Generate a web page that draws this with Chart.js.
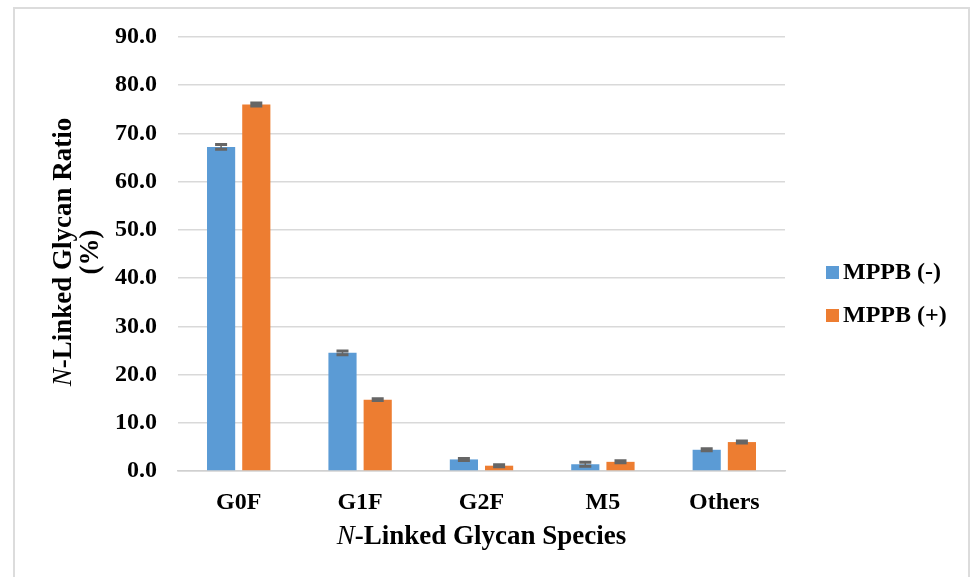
<!DOCTYPE html>
<html>
<head>
<meta charset="utf-8">
<script src="https://cdn.jsdelivr.net/npm/chart.js@4.4.1/dist/chart.umd.min.js"></script>
<style>
  html, body { margin: 0; padding: 0; background: #ffffff; overflow: hidden; }
  #frame { position: absolute; left: 13px; top: 7px; width: 957px; height: 620px; border: 2px solid #dcdcdc; box-sizing: border-box; }
  #wrap { position: absolute; left: 0; top: 0; width: 974px; height: 577px; }
</style>
</head>
<body>
<div id="frame"></div>
<div id="wrap"><canvas id="c" width="974" height="577"></canvas></div>
<script>
const categories = ['G0F', 'G1F', 'G2F', 'M5', 'Others'];
const seriesNames = ['MPPB (-)', 'MPPB (+)'];
const seriesColors = ['#5b9bd5', '#ed7d31'];
const mppbMinus = [67.2, 24.5, 2.4, 1.4, 4.4];
const mppbPlus = [76.0, 14.8, 1.1, 1.9, 6.0];
const errMinus = [0.5, 0.4, 0.2, 0.4, 0.2];
const errPlus = [0.3, 0.2, 0.2, 0.2, 0.2];
const yTicks = [0, 10, 20, 30, 40, 50, 60, 70, 80, 90];
const titleItalic = 'N';
const xTitleRest = '-Linked Glycan Species';
const yTitleLine1Rest = '-Linked Glycan Ratio';
const yTitleLine2 = '(%)';

const FONT = '"Liberation Serif", "Times New Roman", serif';

const errorBars = {
  id: 'errorBars',
  afterDatasetsDraw(chart) {
    const ctx = chart.ctx;
    const ys = chart.scales.y;
    chart.data.datasets.forEach((ds, di) => {
      const meta = chart.getDatasetMeta(di);
      meta.data.forEach((bar, i) => {
        const v = ds.data[i], e = ds.errors[i];
        const yt = ys.getPixelForValue(v + e);
        const yb = ys.getPixelForValue(v - e);
        ctx.save();
        ctx.strokeStyle = '#666666';
        ctx.lineWidth = 1.5;
        ctx.beginPath();
        ctx.moveTo(bar.x, yt); ctx.lineTo(bar.x, yb);
        ctx.stroke();
        ctx.lineWidth = 3;
        ctx.beginPath();
        ctx.moveTo(bar.x - 6, yt); ctx.lineTo(bar.x + 6, yt);
        ctx.moveTo(bar.x - 6, yb); ctx.lineTo(bar.x + 6, yb);
        ctx.stroke();
        ctx.restore();
      });
    });
  }
};

const customLegend = {
  id: 'customLegend',
  afterDraw(chart) {
    const ctx = chart.ctx;
    ctx.save();
    ctx.font = 'bold 24px ' + FONT;
    ctx.textBaseline = 'middle';
    ctx.textAlign = 'left';
    const ys = [272, 315];
    chart.data.datasets.forEach((ds, i) => {
      ctx.fillStyle = ds.backgroundColor;
      ctx.fillRect(826, ys[i] - 6, 13, 13);
      ctx.fillStyle = '#000';
      ctx.fillText(ds.label, 843, ys[i] + 1);
    });
    ctx.restore();
  }
};

const axisTitles = {
  id: 'axisTitles',
  afterDraw(chart) {
    const ctx = chart.ctx;
    const a = chart.chartArea;
    ctx.save();
    ctx.fillStyle = '#000';
    ctx.textBaseline = 'middle';
    const fi = 'italic 27px ' + FONT, fb = 'bold 27px ' + FONT;
    // X title
    ctx.font = fi; const wN = ctx.measureText(titleItalic).width;
    ctx.font = fb; const wR = ctx.measureText(xTitleRest).width;
    const x0 = (a.left + a.right) / 2 - (wN + wR) / 2;
    const yx = 537;
    ctx.textAlign = 'left';
    ctx.font = fi; ctx.fillText(titleItalic, x0, yx);
    ctx.font = fb; ctx.fillText(xTitleRest, x0 + wN, yx);
    // Y title (rotated)
    const cy = 252;
    ctx.translate(64, cy);
    ctx.rotate(-Math.PI / 2);
    ctx.font = fi; const wN2 = ctx.measureText(titleItalic).width;
    ctx.font = fb; const wR2 = ctx.measureText(yTitleLine1Rest).width;
    const s = -(wN2 + wR2) / 2;
    ctx.font = fi; ctx.fillText(titleItalic, s, 0);
    ctx.font = fb; ctx.fillText(yTitleLine1Rest, s + wN2, 0);
    ctx.textAlign = 'center';
    ctx.fillText(yTitleLine2, 0, 27);
    ctx.restore();
  }
};

new Chart(document.getElementById('c'), {
  type: 'bar',
  data: {
    labels: categories,
    datasets: [
      { label: seriesNames[0], data: mppbMinus, errors: errMinus, backgroundColor: seriesColors[0], categoryPercentage: 0.58, barPercentage: 0.8 },
      { label: seriesNames[1], data: mppbPlus, errors: errPlus, backgroundColor: seriesColors[1], categoryPercentage: 0.58, barPercentage: 0.8 }
    ]
  },
  options: {
    responsive: false,
    animation: false,
    layout: { padding: { top: 37, right: 189, bottom: 0, left: 0 } },
    plugins: {
      legend: { display: false },
      tooltip: { enabled: false }
    },
    scales: {
      x: {
        grid: { display: false, drawTicks: false },
        border: { color: '#d0d0d0', width: 1.5 },
        ticks: { font: { family: FONT, size: 24, weight: 'bold' }, color: '#000', padding: 17 },
        afterFit(scale) { scale.height = 106; }
      },
      y: {
        min: 0, max: 90,
        afterBuildTicks(scale) { scale.ticks = yTicks.map(v => ({ value: v })); },
        grid: { color: '#d9d9d9', lineWidth: 1.5, drawTicks: false },
        border: { display: false },
        ticks: { font: { family: FONT, size: 24, weight: 'bold' }, color: '#000', padding: 21, callback: v => Number(v).toFixed(1) },
        afterFit(scale) { scale.width = 178; }
      }
    }
  },
  plugins: [errorBars, axisTitles, customLegend]
});
</script>
</body>
</html>
